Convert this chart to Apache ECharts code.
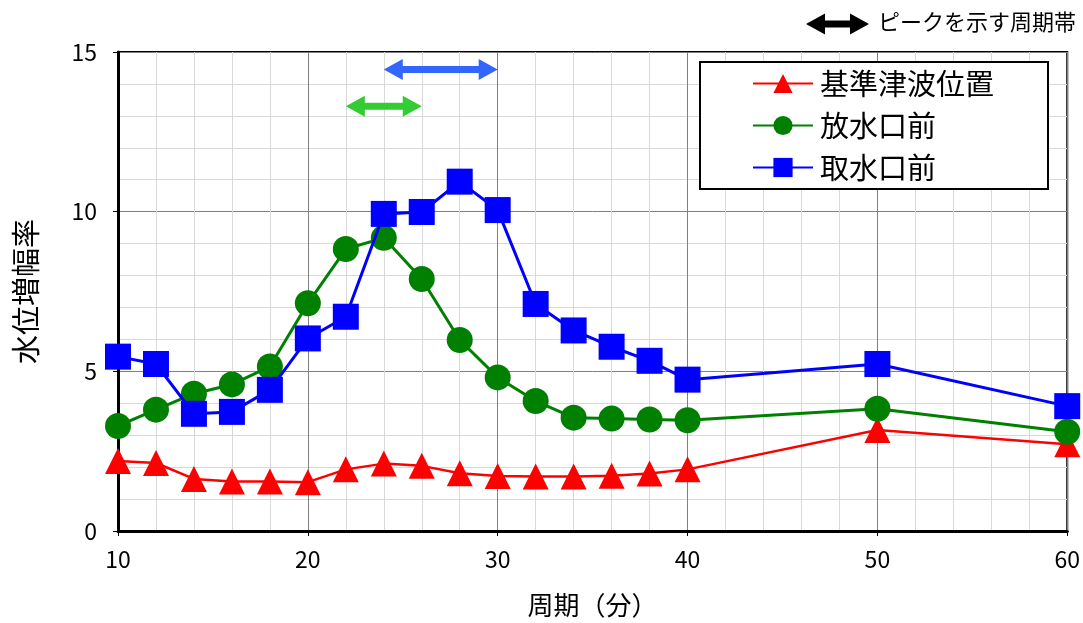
<!DOCTYPE html>
<html>
<head>
<meta charset="utf-8">
<script src="https://cdn.jsdelivr.net/npm/echarts@6/dist/echarts.min.js"></script>
<style>
html,body{margin:0;padding:0;background:#fff;}
#chart{width:1083px;height:623px;}
</style>
</head>
<body>
<div id="chart"></div>
<script>
// ---- data ----
const periods = [10, 12, 14, 16, 18, 20, 22, 24, 26, 28, 30, 32, 34, 36, 38, 40, 50, 60];
const kijun   = [2.19, 2.13, 1.63, 1.55, 1.55, 1.53, 1.93, 2.11, 2.04, 1.81, 1.72, 1.71, 1.71, 1.73, 1.80, 1.93, 3.16, 2.72];
const houSui  = [3.29, 3.80, 4.30, 4.59, 5.15, 7.13, 8.83, 9.18, 7.89, 5.98, 4.81, 4.07, 3.55, 3.52, 3.49, 3.47, 3.83, 3.11];
const shuSui  = [5.46, 5.23, 3.67, 3.73, 4.42, 6.03, 6.71, 9.93, 9.99, 10.94, 10.05, 7.11, 6.28, 5.77, 5.33, 4.74, 5.23, 3.91];
const seriesNames = ['基準津波位置', '放水口前', '取水口前'];
// peak period bands: [start, end, level]
const bandShuSui = [24, 30, 14.45];
const bandHouSui = [22, 26, 13.3];
const xTicks = { min: 10, max: 60, interval: 10 };
const yTicks = { min: 0, max: 15, interval: 5 };

const FONT = '"Noto Sans CJK JP", "Noto Sans", sans-serif';

function pairs(ys) { return periods.map((x, i) => [x, ys[i]]); }

function arrowPolygon(x1, x2, y, L, H, s) {
  return [[x1, y], [x1 + L, y - H], [x1 + L, y - s], [x2 - L, y - s], [x2 - L, y - H],
          [x2, y], [x2 - L, y + H], [x2 - L, y + s], [x1 + L, y + s], [x1 + L, y + H]];
}

function arrowSeries(band, color) {
  return {
    type: 'custom',
    name: 'band_' + color,
    data: [band],
    z: 5,
    silent: true,
    clip: false,
    renderItem: function (params, api) {
      const a = api.coord([api.value(0), api.value(2)]);
      const b = api.coord([api.value(1), api.value(2)]);
      return {
        type: 'polygon',
        shape: { points: arrowPolygon(a[0], b[0], a[1], 19, 10.5, 3.5) },
        style: { fill: color }
      };
    }
  };
}

const chart = echarts.init(document.getElementById('chart'), null, { renderer: 'canvas' });
chart.setOption({
  animation: false,
  backgroundColor: '#fff',
  textStyle: { fontFamily: FONT },
  grid: { left: 118, right: 12, top: 52, bottom: 88, show: true, borderColor: '#000', borderWidth: 2, backgroundColor: 'transparent' },
  xAxis: {
    type: 'value', min: xTicks.min, max: xTicks.max, interval: xTicks.interval,
    name: '周期（分）', nameLocation: 'middle', nameGap: 61,
    nameTextStyle: { fontSize: 26, color: '#000', fontFamily: FONT },
    axisLine: { show: true, onZero: false, lineStyle: { color: '#000', width: 3 } },
    axisTick: { show: true, length: 5, lineStyle: { color: '#000', width: 1 } },
    axisLabel: { fontSize: 23, color: '#000', margin: 17, fontFamily: FONT },
    splitLine: { show: true, lineStyle: { color: '#808080', width: 1 } },
    minorTick: { show: false, splitNumber: 5 },
    minorSplitLine: { show: true, lineStyle: { color: '#d9d9d9', width: 1 } }
  },
  yAxis: {
    type: 'value', min: yTicks.min, max: yTicks.max, interval: yTicks.interval,
    name: '水位増幅率', nameLocation: 'middle', nameGap: 78, nameRotate: 90,
    nameTextStyle: { fontSize: 29, color: '#000', fontFamily: FONT },
    axisLine: { show: true, lineStyle: { color: '#000', width: 3 } },
    axisTick: { show: true, length: 5, lineStyle: { color: '#000', width: 1 } },
    axisLabel: { fontSize: 23, color: '#000', margin: 21, fontFamily: FONT },
    splitLine: { show: true, lineStyle: { color: '#808080', width: 1 } },
    minorTick: { show: false, splitNumber: 5 },
    minorSplitLine: { show: true, lineStyle: { color: '#d9d9d9', width: 1 } }
  },
  legend: {
    data: seriesNames,
    orient: 'vertical',
    left: 700, top: 62,
    padding: [7, 54, 7, 52],
    itemWidth: 60, itemHeight: 24, itemGap: 13,
    backgroundColor: '#fff', borderColor: '#000', borderWidth: 2,
    textStyle: { fontSize: 29, color: '#000', fontFamily: FONT, lineHeight: 28, padding: [0, 0, 0, 2] },
    z: 10
  },
  series: [
    {
      name: seriesNames[0], type: 'line', data: pairs(kijun), clip: false,
      symbol: 'triangle', symbolSize: 26,
      lineStyle: { color: '#ff0000', width: 2.5 }, itemStyle: { color: '#ff0000' }, z: 2
    },
    {
      name: seriesNames[1], type: 'line', data: pairs(houSui), clip: false,
      symbol: 'circle', symbolSize: 26,
      lineStyle: { color: '#008000', width: 3 }, itemStyle: { color: '#008000' }, z: 3
    },
    {
      name: seriesNames[2], type: 'line', data: pairs(shuSui), clip: false,
      symbol: 'rect', symbolSize: 26,
      lineStyle: { color: '#0000ff', width: 3 }, itemStyle: { color: '#0000ff' }, z: 4
    },
    arrowSeries(bandShuSui, '#3366ff'),
    arrowSeries(bandHouSui, '#33cc33')
  ],
  graphic: [
    {
      type: 'polygon',
      shape: { points: arrowPolygon(806, 869, 24, 19, 10.5, 3.5) },
      style: { fill: '#000' }
    },
    {
      type: 'text', left: 878, top: 11,
      style: { text: 'ピークを示す周期帯', fontSize: 22, fill: '#000', fontFamily: FONT }
    }
  ]
});
</script>
</body>
</html>
